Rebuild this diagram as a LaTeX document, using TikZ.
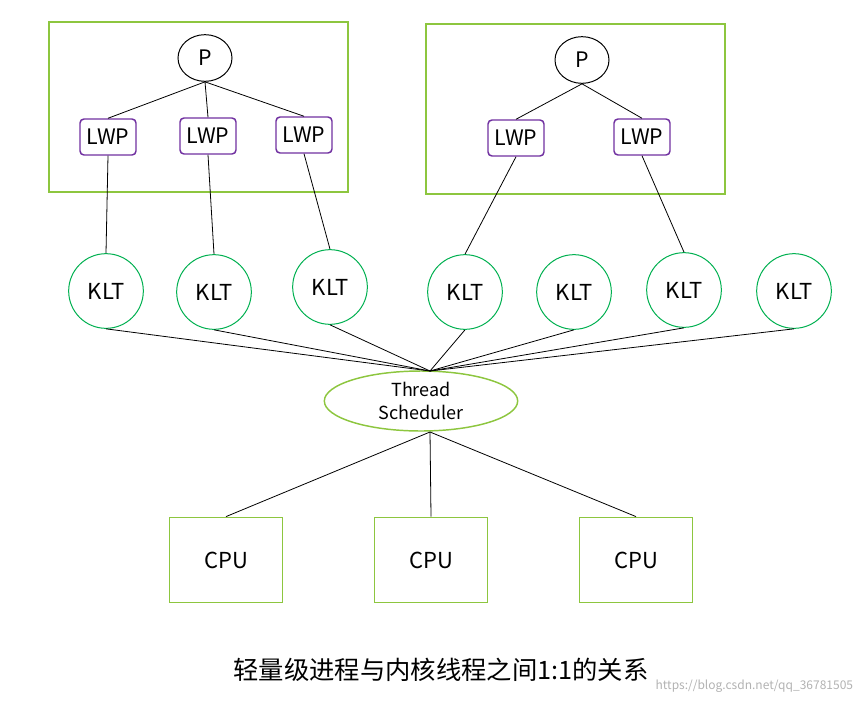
\documentclass[tikz,border=0pt]{standalone}
\usepackage{fontspec}
\setmainfont{Noto Sans CJK SC}
\usetikzlibrary{shapes.geometric}
\definecolor{grn}{RGB}{141,198,63}
\definecolor{kltgrn}{RGB}{0,176,80}
\definecolor{prp}{RGB}{112,48,160}
\tikzset{every picture/.style={line width=0.75pt}}
\tikzset{
  proc/.style={draw=grn,line width=1.1pt},
  pnode/.style={draw,ellipse,minimum width=40.5pt,minimum height=35pt,inner sep=0pt,font=\fontsize{16}{18}\selectfont},
  lwp/.style={draw=prp,rounded corners=3pt,line width=1.1pt,minimum width=42pt,minimum height=27pt,inner sep=0pt,font=\fontsize{16}{18}\selectfont},
  klt/.style={draw=kltgrn,circle,minimum size=56pt,inner sep=0pt,font=\fontsize{16.5}{18}\selectfont},
  cpu/.style={draw=grn,line width=1.1pt,minimum width=85pt,minimum height=64pt,inner sep=0pt,font=\fontsize{16.5}{18}\selectfont},
  link/.style={draw,line width=0.6pt}
}
\begin{document}
\begin{tikzpicture}[x=0.75pt,y=0.75pt,yscale=-1,xscale=1]
\useasboundingbox (0,0) rectangle (866,703);

%Process boxes
\draw [proc] (49,22) rectangle (348,192);
\draw [proc] (426,24) rectangle (725,194);

% Processes
\node [pnode] (p1) at (205,58) {P};
\node [pnode] (p2) at (582,60) {P};

% LWPs
\node [lwp] (l1) at (108,137) {LWP};
\node [lwp] (l2) at (208,136) {LWP};
\node [lwp] (l3) at (304,135) {LWP};
\node [lwp] (l4) at (516,138) {LWP};
\node [lwp] (l5) at (642,137) {LWP};

% KLTs
\node [klt] (k1) at (106,291) {KLT};
\node [klt] (k2) at (214,292) {KLT};
\node [klt] (k3) at (330,287) {KLT};
\node [klt] (k4) at (465,292) {KLT};
\node [klt] (k5) at (574,292) {KLT};
\node [klt] (k6) at (684,290) {KLT};
\node [klt] (k7) at (794,291) {KLT};

% Scheduler
\node [draw=grn,line width=1.1pt,ellipse,minimum width=145pt,minimum height=45pt,inner sep=0pt,align=center,font=\fontsize{13.5}{17}\selectfont] (ts) at (421,401) {Thread\\Scheduler};
\coordinate (tstop) at (430,371);
\coordinate (tsbot) at (430,432);

% CPUs
\node [cpu] (c1) at (226,560) {CPU};
\node [cpu] (c2) at (431,560) {CPU};
\node [cpu] (c3) at (636,560) {CPU};

% Links
\foreach \l in {l1,l2,l3} \draw [link] (p1.south) -- (\l.north);
\foreach \l in {l4,l5} \draw [link] (p2.south) -- (\l.north);
\draw [link] (l1.south) -- (k1.north);
\draw [link] (l2.south) -- (k2.north);
\draw [link] (l3.south) -- (k3.north);
\draw [link] (l4.south) -- (k4.north);
\draw [link] (l5.south) -- (k6.north);
\foreach \k in {k1,k2,k3,k4,k5,k6,k7} \draw [link] (\k.south) -- (tstop);
\foreach \c in {c1,c2,c3} \draw [link] (tsbot) -- (\c.north);

% Caption
\node [font=\fontsize{19}{22}\selectfont] (cap) at (441,670) {轻量级进程与内核线程之间1:1的关系};
\node [anchor=east,text=black!30,font=\small] (wm) at (858,686) {https://blog.csdn.net/qq\_36781505};
\end{tikzpicture}
\end{document}
